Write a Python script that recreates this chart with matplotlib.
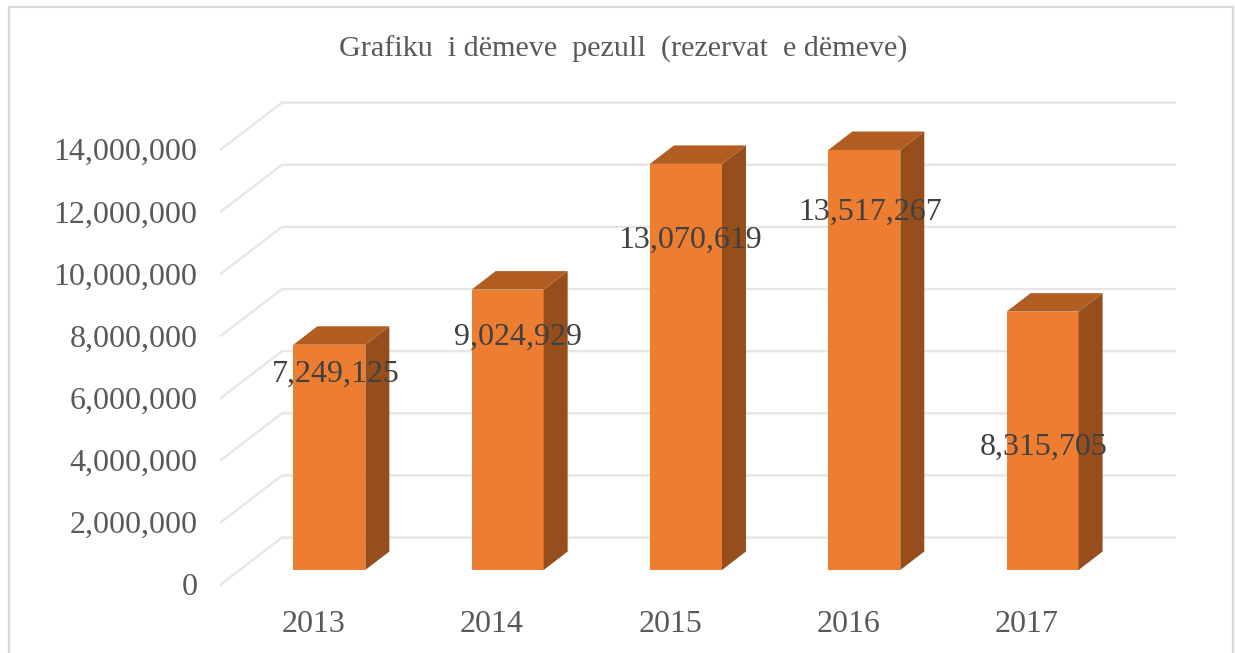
import matplotlib
matplotlib.use("Agg")
import matplotlib.pyplot as plt
from matplotlib.lines import Line2D
from matplotlib.ticker import FuncFormatter

# data
years = ["2013", "2014", "2015", "2016", "2017"]
reserves = [7249125, 9024929, 13070619, 13517267, 8315705]
y_ticks = [0, 2000000, 4000000, 6000000, 8000000, 10000000, 12000000, 14000000]
title = "Grafiku  i dëmeve  pezull  (rezervat  e dëmeve)"

# manual data label placement, pixels relative to the bar top centre
label_dx = [6, 10, 4, 6, 1]
label_dy = [-30, -48, -76, -62, -136]

# 3D look, in data units
BAR_W = 0.404
FLOOR_X, FLOOR_Y = 0.0875, 460000
DEPTH_X, DEPTH_Y = 0.1346, 595000
WALL_X, WALL_Y = 0.342, 1503000

W, H = 1235, 653
plt.rcParams["font.family"] = ["Liberation Serif", "DejaVu Serif"]
fig = plt.figure(figsize=(W / 100, H / 100), dpi=100, facecolor="white")
ax = fig.add_axes([221 / W, 1 - 584.3 / H, (1114 - 221) / W, 435 / H])
ax.set_xlim(-0.52, 4.488)
ax.set_ylim(0, 14000000)
ax.patch.set_visible(False)
for s in ax.spines.values():
    s.set_visible(False)

GRID = "#E6E6E6"
xl, xr = ax.get_xlim()
for t in y_ticks:
    ax.plot([xl, xl + WALL_X, xr + WALL_X], [t, t + WALL_Y, t + WALL_Y],
            color=GRID, lw=1.7, clip_on=False, zorder=1, solid_joinstyle="miter")

for i, v in enumerate(reserves):
    x0 = i + FLOOR_X - BAR_W / 2
    x1 = i + FLOOR_X + BAR_W / 2
    ax.bar(i + FLOOR_X, v, BAR_W, bottom=FLOOR_Y, color="#ED7D31", clip_on=False,
           zorder=3, linewidth=0)
    ax.fill([x1, x1 + DEPTH_X, x1 + DEPTH_X, x1],
            [FLOOR_Y, FLOOR_Y + DEPTH_Y, FLOOR_Y + DEPTH_Y + v, FLOOR_Y + v],
            color="#964F1C", clip_on=False, zorder=3, linewidth=0)
    ax.fill([x0, x1, x1 + DEPTH_X, x0 + DEPTH_X],
            [FLOOR_Y + v, FLOOR_Y + v, FLOOR_Y + DEPTH_Y + v, FLOOR_Y + DEPTH_Y + v],
            color="#B25E22", clip_on=False, zorder=3, linewidth=0)
    ax.annotate(f"{v:,}", (i + FLOOR_X, FLOOR_Y + v),
                xytext=(label_dx[i] * 0.72, label_dy[i] * 0.72), textcoords="offset points",
                ha="center", va="center", fontsize=23, color="#404040", zorder=5)

ax.set_xticks(range(len(years)), years)
ax.set_yticks(y_ticks)
ax.yaxis.set_major_formatter(FuncFormatter(lambda v, _: f"{int(v):,}"))
ax.tick_params(axis="both", length=0, labelsize=23, labelcolor="#595959")
ax.tick_params(axis="y", pad=17)
ax.tick_params(axis="x", pad=18.5)

fig.text(623.5 / W, 1 - 49 / H, title, ha="center", va="center", fontsize=21.7, color="#595959")

BORDER = "#D9D9D9"
fig.add_artist(Line2D([9 / W, 9 / W, 1233 / W, 1233 / W], [0, 1 - 7 / H, 1 - 7 / H, 0],
                      color=BORDER, lw=1.6, solid_joinstyle="miter"))

fig.savefig("out.png", dpi=100)
